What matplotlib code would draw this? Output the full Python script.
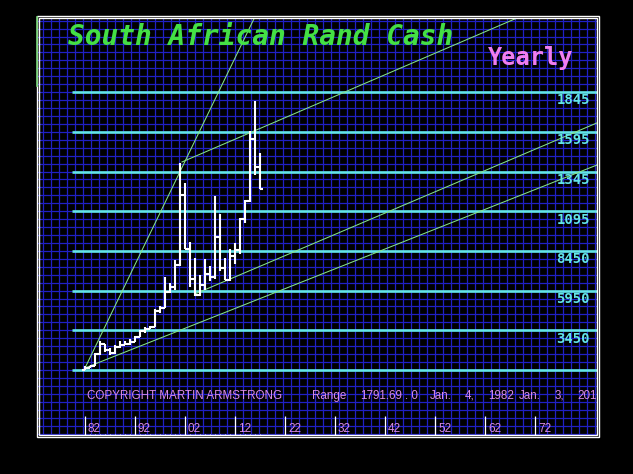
import matplotlib
matplotlib.use("Agg")
import matplotlib.pyplot as plt
from matplotlib.patches import Rectangle
from matplotlib.lines import Line2D

# ---------------- data ----------------
years = list(range(1982, 2018))
opens = [96, 108, 122, 198, 257, 220, 200, 238, 255, 256, 274, 305, 340, 355,
         365, 468, 487, 585, 615, 757, 1200, 860, 665, 565, 632, 700, 680, 935,
         740, 660, 810, 848, 1046, 1157, 1550, 1374]
highs = [118, 123, 205, 275, 260, 235, 250, 280, 280, 290, 310, 345, 365, 370,
         480, 498, 680, 640, 790, 1400, 1270, 900, 800, 692, 795, 750, 1190, 1075,
         800, 860, 895, 1050, 1168, 1600, 1791.69, 1460]
lows = [95, 106, 120, 190, 210, 190, 195, 235, 250, 255, 270, 300, 330, 355,
        365, 455, 486, 580, 600, 750, 860, 620, 560, 560, 598, 655, 665, 720,
        660, 655, 760, 825, 1020, 1150, 1320, 1236]
closes = [108, 122, 198, 257, 220, 200, 238, 255, 256, 274, 305, 340, 355, 365,
          468, 487, 585, 615, 757, 1200, 860, 665, 565, 632, 700, 680, 930, 740,
          660, 810, 848, 1046, 1157, 1550, 1374, 1236]

base_level = 95
level_values = [345, 595, 845, 1095, 1345, 1595, 1845]
level_labels = ["3450", "5950", "8450", "1095", "1345", "1595", "1845"]

decade_ticks = [1982, 1992, 2002, 2012, 2022, 2032, 2042, 2052, 2062, 2072]
decade_labels = ["82", "92", "02", "12", "22", "32", "42", "52", "62", "72"]

# trend / fan lines: (start year, start value), (end year, end value)
fan_lines = [((1982, 108), (2016.0, 2320)),
             ((1982, 108), (2084.4, 1386)),
             ((2004, 574), (2084.4, 1651)),
             ((2001.4, 1405), (2069.4, 2325))]

title_text = "South African Rand Cash"
period_text = "Yearly"
# footer pieces with their left pixel positions
footer_pieces = [(87, "COPYRIGHT MARTIN ARMSTRONG"),
                 (312, "Range"),
                 (360, "%.2f" % max(highs)),
                 (405, ". 0"),
                 (430, "Jan."),
                 (465, "4,"),
                 (488, str(years[0])),
                 (519, "Jan."),
                 (555, "3,"),
                 (577, "2018")]

# ---------------- layout helpers ----------------
W, H = 633, 474
def px2yr(px):
    return 1982 + (px - 85) / 5.0
def py2v(py):
    return 95 + (370 - py) * 250 / 39.7
def fx(px):
    return px / W
def fy(py):
    return 1 - py / H

CYAN = "#62e4e8"
GREEN_LINE = "#86e486"
GRID = "#2020c4"
PINK = "#d88ae6"

fig = plt.figure(figsize=(W / 100, H / 100), dpi=100, facecolor="black")
ax = fig.add_axes([fx(38), fy(435), fx(597) - fx(38), fy(18) - fy(435)])
ax.set_facecolor("#000014")
x0, x1 = px2yr(38), px2yr(597)
y0, y1 = py2v(435), py2v(18)
ax.set_xlim(x0, x1)
ax.set_ylim(y0, y1)
ax.set_axis_off()

# blue grid
k = -20
while True:
    v = base_level + 50 * k
    if v > y1:
        break
    if v >= y0:
        ax.axhline(v, color=GRID, lw=0.9, zorder=1)
    k += 1
gx = 1981.66
while gx - 1.6 > x0:
    gx -= 1.6
while gx < x1:
    ax.axvline(gx, color=GRID, lw=0.9, zorder=1)
    gx += 1.6

# cyan horizontal levels
for lv in [base_level] + level_values:
    ax.hlines(lv, px2yr(72), x1, color=CYAN, lw=1.9, zorder=2)
for lv, lab in zip(level_values, level_labels):
    ax.annotate(lab, xy=(px2yr(590), lv), xytext=(0, -1.0), textcoords="offset points",
                ha="right", va="top", color=CYAN, fontsize=10,
                family="DejaVu Sans Mono", weight="bold", zorder=5)

# fan lines
for (xa, ya), (xb, yb) in fan_lines:
    ax.plot([xa, xb], [ya, yb], color=GREEN_LINE, lw=0.75, zorder=3)

# OHLC bars
ax.vlines(years, lows, highs, color="white", lw=1.5, zorder=4, capstyle="butt")
ax.hlines(opens, [y - 0.55 for y in years], years, color="white", lw=1.5, zorder=4)
ax.hlines(closes, years, [y + 0.55 for y in years], color="white", lw=1.5, zorder=4)

# bottom ticks and labels
ax.vlines(decade_ticks, y0, py2v(416), color="white", lw=0.9, zorder=4)
for t, lab in zip(decade_ticks, decade_labels):
    ax.text(t + 0.6, py2v(429), lab, color=PINK, fontsize=8.5, family="Liberation Sans",
            ha="left", va="center", zorder=5)
ax.vlines(years, y0, py2v(433.5), color="white", lw=0.6, zorder=4)

# copyright / range line
for px, s in footer_pieces:
    ax.text(px2yr(px), py2v(396), s, color=PINK, fontsize=8.4,
            family="Liberation Sans", ha="left", va="center", clip_on=True, zorder=5)

# title and period label
fig.text(fx(68), fy(45), title_text, color="#44e044", fontsize=20,
         family="DejaVu Sans Mono", weight="bold", style="italic",
         ha="left", va="baseline")
fig.text(fx(488), fy(65), period_text, color="#f07ef0", fontsize=17,
         family="DejaVu Sans Mono", weight="bold", ha="left", va="baseline")

# double white frame
for (l, t, r, b) in [(36.5, 16, 598.5, 436.5), (38.5, 18, 596.5, 434.5)]:
    fig.patches.append(Rectangle((fx(l), fy(b)), fx(r) - fx(l), fy(t) - fy(b),
                                 transform=fig.transFigure, fill=False,
                                 edgecolor="white", lw=1.0, zorder=10))
fig.lines.append(Line2D([fx(37), fx(37)], [fy(17), fy(86)], transform=fig.transFigure,
                        color="#70d070", lw=1.2, zorder=11))

fig.savefig("out.png", dpi=100, facecolor="black")
